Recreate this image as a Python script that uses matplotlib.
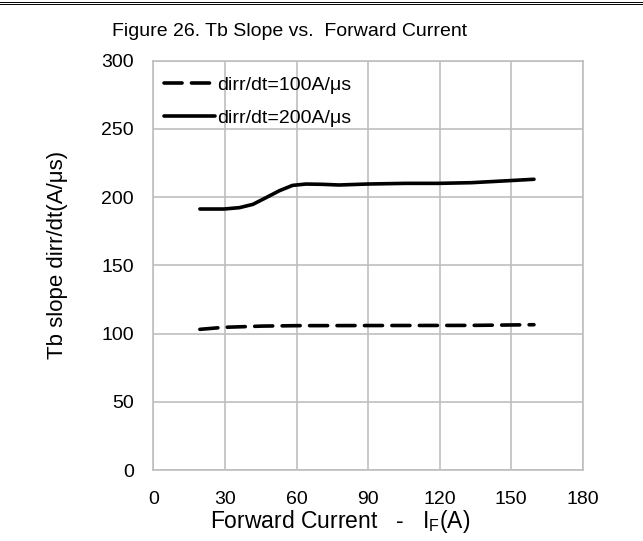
import matplotlib
matplotlib.use("Agg")
import matplotlib.pyplot as plt
from matplotlib.lines import Line2D

plt.rcParams['font.family'] = ['Liberation Sans', 'DejaVu Sans']

# data
x_200 = [19.5, 29.6, 36.1, 41.7, 47.2, 52.8, 58.3, 63.9, 70.8, 77.8, 89.5, 105.6, 119.5, 133.3, 149.3, 159.5]
y_200 = [191.3, 191.3, 192.3, 194.7, 199.6, 204.7, 208.6, 209.6, 209.4, 208.9, 209.6, 210.1, 210.1, 210.6, 212.1, 213.1]
x_100 = [19.5, 29.6, 45.8, 60.0, 93.4, 133.3, 159.5]
y_100 = [103.1, 104.6, 105.5, 105.8, 105.9, 106.0, 106.5]

xticks = [0, 30, 60, 90, 120, 150, 180]
yticks = [0, 50, 100, 150, 200, 250, 300]
labels = ['dirr/dt=100A/μs', 'dirr/dt=200A/μs']

#=======================================================
fig = plt.figure(figsize=(6.43, 5.41), dpi=100)
ax = fig.add_axes([0.2385, 0.1312, 0.668, 0.7566])

grey = '#bfbfbf'
ax.set_xlim(0, 180)
ax.set_ylim(0, 300)
ax.set_xticks(xticks)
ax.set_yticks(yticks)
ax.grid(True, color=grey, lw=1.2)
ax.set_axisbelow(True)
for s in ax.spines.values():
    s.set_color(grey)
    s.set_linewidth(1.2)
ax.tick_params(length=0, labelsize=14)
ax.tick_params(axis='y', pad=14)
ax.tick_params(axis='x', pad=15)

ax.plot(x_100, y_100, color='black', lw=2.6, ls=(0, (5.0, 2.6)),
        dash_capstyle='round', solid_capstyle='round', label=labels[0])
ax.plot(x_200, y_200, color='black', lw=2.6, solid_capstyle='round', label=labels[1])

ax.legend(loc='upper left', bbox_to_anchor=(0.025, 0.961), frameon=False,
          fontsize=14, handlelength=2.6, handletextpad=0.15, labelspacing=0.78,
          borderaxespad=0, borderpad=0)

#----------------------------
fig.text(0.45, 0.941, 'Figure 26. Tb Slope vs.  Forward Current', ha='center', va='center', fontsize=14)
fig.text(0.09, 0.529, 'Tb slope dirr/dt(A/μs)', rotation=90, ha='center', va='center', fontsize=16)
fig.text(0.5296, 0.036, 'Forward Current   ‐   I$_\\mathregular{F}$(A)', ha='center', va='center', fontsize=16.5)

# double rule at the top of the page
for yy in [1 - 2.2 / 541, 1 - 4.4 / 541]:
    fig.add_artist(Line2D([0, 1], [yy, yy], transform=fig.transFigure, color='black', lw=0.7))

fig.savefig('out.png', dpi=100)
